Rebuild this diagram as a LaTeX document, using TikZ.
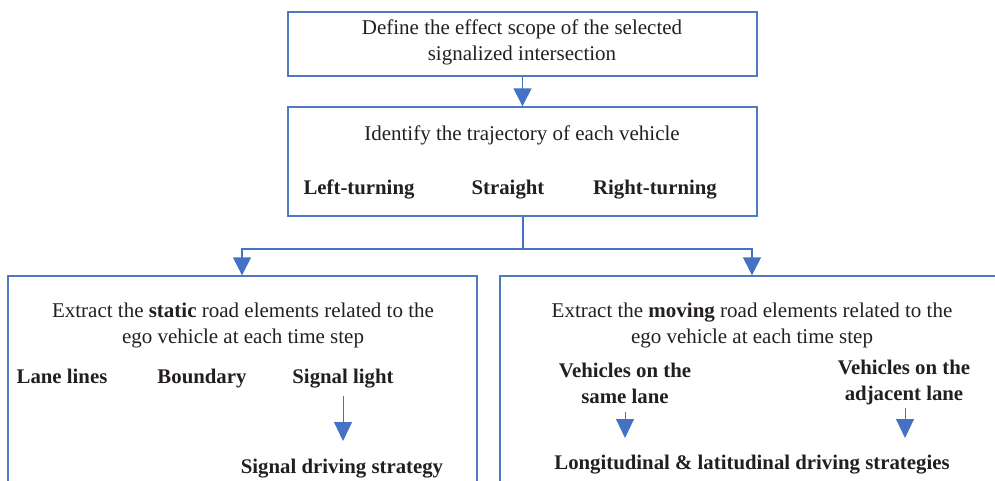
\documentclass[tikz,border=0pt]{standalone}
\usepackage{fontspec}
\setmainfont{Liberation Serif}
\usetikzlibrary{arrows.meta}
\definecolor{frameblue}{HTML}{4F7AC0}
\definecolor{arrowblue}{HTML}{4472C4}
\definecolor{ink}{HTML}{231F20}
\tikzset{
  box/.style={draw=frameblue, line width=1.4pt, fill=none, inner sep=0pt},
  txt/.style={anchor=base, inner sep=0pt, text=ink, font=\fontsize{21}{25}\selectfont},
  btxt/.style={txt, font=\fontsize{20.8}{25}\selectfont\bfseries},
  link/.style={draw=arrowblue, line width=1.4pt},
  tip/.style={-{Triangle[width=18pt,length=18pt]}, arrowblue},
  smalltip/.style={draw=arrowblue, line width=1pt, -{Triangle[width=18pt,length=19pt]}, arrowblue},
}
\begin{document}
\begin{tikzpicture}[x=1pt,y=-1pt]
\useasboundingbox (0,0) rectangle (995,481);
\clip (0,0) rectangle (995,481);

% process boxes
\node[box, minimum width=469pt, minimum height=64pt] (scope) at (522.5,44) {};
\node[box, minimum width=469pt, minimum height=109pt] (traj) at (522.5,161.5) {};
\node[box, minimum width=469pt, minimum height=230pt] (static) at (242.5,391) {};
\node[box, minimum width=520pt, minimum height=230pt] (moving) at (760,391) {};

% texts of the first two boxes
\node[txt] (t1) at (522,35) {Define the effect scope of the selected};
\node[txt] (t2) at (522,61) {signalized intersection};
\node[txt] (t3) at (522,141) {Identify the trajectory of each vehicle};
\node[btxt] (left) at (359,194) {Left-turning};
\node[btxt] (straight) at (508,194) {Straight};
\node[btxt] (right) at (655,194) {Right-turning};

% static elements
\node[txt] (s1) at (243,317) {Extract the \textbf{static} road elements related to the};
\node[txt] (s2) at (243,343) {ego vehicle at each time step};
\node[btxt] (lane) at (62,383) {Lane lines};
\node[btxt] (bound) at (202,383) {Boundary};
\node[btxt] (light) at (343,383) {Signal light};
\node[btxt] (sigstrat) at (342,473) {Signal driving strategy};

% moving elements
\node[txt] (m1) at (752,317) {Extract the \textbf{moving} road elements related to the};
\node[txt] (m2) at (752,343) {ego vehicle at each time step};
\node[btxt] (same1) at (625,377) {Vehicles on the};
\node[btxt] (same2) at (625,403) {same lane};
\node[btxt] (adj1) at (904,374) {Vehicles on the};
\node[btxt] (adj2) at (904,400) {adjacent lane};
\node[btxt] (longlat) at (752,469) {Longitudinal \& latitudinal driving strategies};

% connectors
\draw[link, tip] (scope.south) -- (traj.north);
\coordinate (split) at (523,249);
\draw[link] (traj.south -| split) -- (split);
\draw[link, tip] (split) -| (static.north -| 242,0);
\draw[link, tip] (split) -| (moving.north -| 752,0);
\draw[smalltip] (light.south) ++(0,8) -- (343,441);
\draw[smalltip] (625,412) -- (625,438);
\draw[smalltip] (905,408) -- (905,438);
\end{tikzpicture}
\end{document}
